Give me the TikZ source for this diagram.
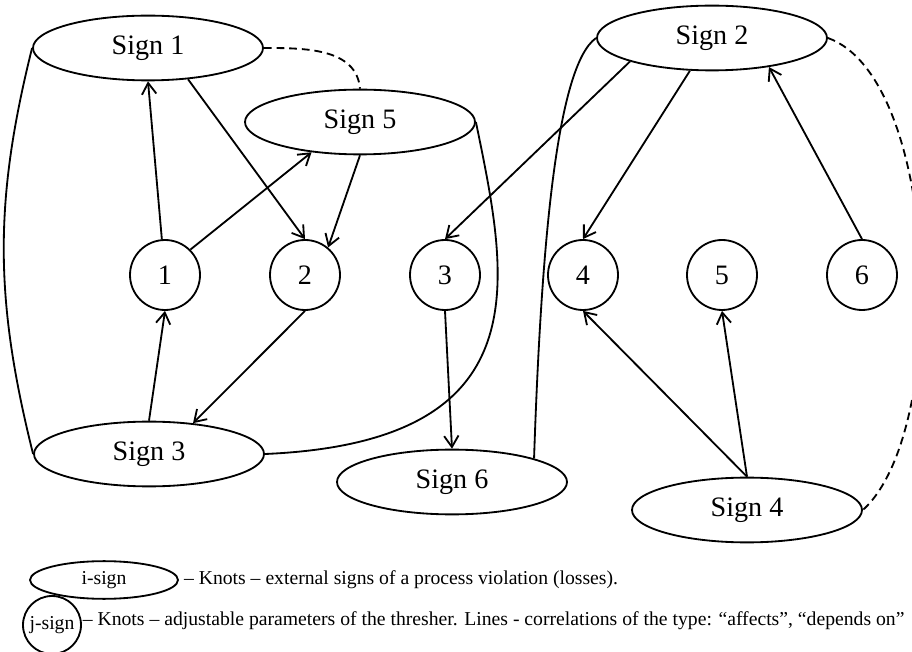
\documentclass[tikz,border=0pt]{standalone}
\usepackage{fontspec}
\setmainfont{Liberation Serif}
\usetikzlibrary{shapes.geometric,arrows.meta}

\tikzset{
  isign/.style={draw,ellipse,minimum width=5.75cm,minimum height=1.62cm,font=\fontsize{20}{24}\selectfont},
  jsign/.style={draw,circle,minimum size=1.75cm,inner sep=0pt,font=\fontsize{20}{24}\selectfont},
  legend/.style={font=\fontsize{14}{16}\selectfont}
}

\begin{document}
\begin{tikzpicture}[line width=1.3pt,>={Straight Barb[length=2.8mm,width=3.6mm]}]
\useasboundingbox (0,0) rectangle (22.8,16.275);

\node[isign] (s1) at (3.7,15.075) {Sign 1};
\node[isign] (s5) at (9.0,13.225) {Sign 5};
\node[isign] (s2) at (17.8,15.325) {Sign 2};
\node[isign] (s3) at (3.725,4.925) {Sign 3};
\node[isign] (s6) at (11.3,4.225) {Sign 6};
\node[isign] (s4) at (18.675,3.525) {Sign 4};

\foreach \i/\x in {1/4.125, 2/7.625, 3/11.125, 4/14.575, 5/18.05, 6/21.55}{
    \node[jsign] (c\i) at (\x,9.4) {\i};
}

% affects / depends on
\draw[->] (c1) -- (s1.south);
\draw[->] (s1.-38) -- (c2.north);
\draw[->] (c1.45) -- (s5.212);
\draw[->] (s5.south) -- (c2.50);
\draw[->] (s3.north) -- (c1.south);
\draw[->] (c2.south) -- (s3.35);
\draw[->] (c3.south) -- (s6.north);
\draw[->] (s2.196) -- (c3.north);
\draw[->] (s2.-124) -- (c4.north);
\draw[->] (c6.north) -- (s2.-27);
\draw[->] (s4.north) -- (c4.south);
\draw[->] (s4.north) -- (c5.south);

% plain links between signs
\draw (s1.west) to[out=-104,in=104] (s3.west);
\draw (s5.east) .. controls +(0.8,-3.9) and +(7,0.3) .. (s3.east);
\draw (s6.16) .. controls +(0.175,5.2) and +(-1.0,-0.7) .. (s2.west);
\draw[dash pattern=on 5.5pt off 3.5pt] (s1.east) to[out=0,in=95] (s5.north);
\draw[dash pattern=on 5.5pt off 3.5pt] (s2.east) .. controls +(2.8,-1.0) and +(2.2,2.0) .. (s4.east);

% legend
\node[draw,ellipse,minimum width=3.7cm,minimum height=0.75cm,legend] (ilegend) at (2.6,1.775) {i-sign};
\node[anchor=west,inner sep=1pt,legend] at ([xshift=2pt]ilegend.east) {-- Knots -- external signs of a process violation (losses).};
\node[draw,circle,minimum size=1.45cm,inner sep=0pt,legend] (jlegend) at (1.3,0.65) {j-sign};
\node[anchor=west,inner sep=0pt,legend] at ([yshift=3pt]jlegend.east) {-- Knots -- adjustable parameters of the thresher. Lines - correlations of the type: “affects”, “depends on”};
\end{tikzpicture}
\end{document}
